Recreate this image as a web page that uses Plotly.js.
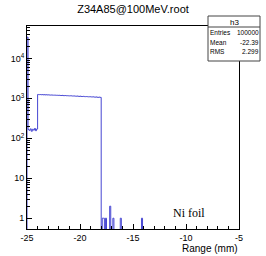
<!DOCTYPE html>
<html>
<head>
<meta charset="utf-8">
<script src="https://cdn.plot.ly/plotly-3.0.1.min.js"></script>
<style>html,body{margin:0;padding:0;background:#fff;}#chart{width:266px;height:256px;}</style>
</head>
<body>
<div id="chart"></div>
<script>
// Histogram h3: bins of 0.1 mm from -25 to -5
const binStart = -25;
const binWidth = 0.1;
const binCount = 200;
// counts for consecutive bins starting at -25.0 (first bin, low plateau, main plateau)
const mainCounts = [
  34000,
  165, 158, 172, 150, 168, 160, 176, 155, 170,
  1250, 1235, 1245, 1230, 1240, 1225, 1232, 1220, 1228, 1215,
  1222, 1210, 1205, 1215, 1200, 1198, 1205, 1190, 1195, 1185,
  1192, 1180, 1175, 1185, 1170, 1168, 1175, 1160, 1165, 1155,
  1150, 1162, 1145, 1140, 1150, 1135, 1130, 1142, 1125, 1120,
  1130, 1115, 1110, 1122, 1105, 1100, 1112, 1095, 1090, 1100,
  1085, 1080, 1092, 1075, 1070, 1082, 1065, 1060, 1072, 1055
];
// sparse tail entries (bin low edge, count)
const tailBins = [-17.9, -17.8, -17.6, -17.2, -16.9, -16.2, -14.2];
const tailCounts = [1, 1, 1, 2, 1, 1, 1];

const xTickVals = [-25, -20, -15, -10, -5];
const xTickText = ['-25', '-20', '-15', '-10', '-5'];
const yTickVals = [1, 10, 100, 1000, 10000];
const yTickText = ['1', '10', '10<sup>2</sup>', '10<sup>3</sup>', '10<sup>4</sup>'];

const statsName = 'h3';
const statsLabels = ['Entries', 'Mean', 'RMS'];
const statsValues = ['100000', '-22.39', '2.299'];

const chartTitle = 'Z34A85@100MeV.root';
const xTitle = 'Range (mm)';
const noteText = 'Ni foil';

// assemble bin contents
const counts = new Array(binCount).fill(0);
mainCounts.forEach((c, i) => { counts[i] = c; });
tailBins.forEach((b, j) => {
  const idx = Math.round((b - binStart) / binWidth);
  counts[idx] = tailCounts[j];
});
const floorVal = 0.01; // empty bins drawn below the visible range
const xs = [binStart], ys = [floorVal];
for (let i = 0; i < binCount; i++) {
  xs.push(+(binStart + i * binWidth).toFixed(2));
  ys.push(counts[i] > 0 ? counts[i] : floorVal);
}
xs.push(binStart + binCount * binWidth);
ys.push(floorVal);

const minorY = [];
for (let e = 0; e <= 4; e++) for (let m = 2; m <= 9; m++) minorY.push(m * Math.pow(10, e));

const font = 'Liberation Sans, Arial, sans-serif';
const L = 27, R = 27, T = 26, B = 27, W = 266, H = 256;
const pw = W - L - R, ph = H - T - B;
const px = v => (v - L) / pw;
const py = v => (H - B - v) / ph;

const trace = {
  x: xs, y: ys, type: 'scatter', mode: 'lines',
  line: {shape: 'hv', color: 'rgb(70,70,210)', width: 1},
  hoverinfo: 'skip'
};

const annotations = [
  {text: noteText, x: px(189), y: py(213), xref: 'paper', yref: 'paper', showarrow: false,
   xanchor: 'center', yanchor: 'middle', font: {family: 'Liberation Serif, Times New Roman, serif', size: 12, color: '#000'}},
  {text: xTitle, x: px(240), y: py(248), xref: 'paper', yref: 'paper', showarrow: false,
   xanchor: 'right', yanchor: 'middle', font: {family: font, size: 10, color: '#000'}},
  {text: statsName, x: px(234), y: py(22), xref: 'paper', yref: 'paper', showarrow: false,
   xanchor: 'center', yanchor: 'middle', font: {family: font, size: 8, color: '#000'}}
];
const rowY = [33, 42, 52];
statsLabels.forEach((lab, i) => {
  annotations.push({text: lab, x: px(209), y: py(rowY[i]), xref: 'paper', yref: 'paper', showarrow: false,
    xanchor: 'left', yanchor: 'middle', borderpad: 0, font: {family: font, size: 6.5, color: '#000'}});
  annotations.push({text: statsValues[i], x: px(259.5), y: py(rowY[i]), xref: 'paper', yref: 'paper', showarrow: false,
    xanchor: 'right', yanchor: 'middle', borderpad: 0, font: {family: font, size: 6.5, color: '#000'}});
});

const shapes = [
  {type: 'rect', xref: 'paper', yref: 'paper', x0: px(208), x1: px(260), y0: py(61), y1: py(16),
   fillcolor: '#fff', line: {color: '#444', width: 1}, layer: 'above'},
  {type: 'line', xref: 'paper', yref: 'paper', x0: px(208), x1: px(260), y0: py(27), y1: py(27),
   line: {color: '#444', width: 1}, layer: 'above'}
];

const layout = {
  width: W, height: H,
  margin: {l: L, r: R, t: T, b: B, pad: 0},
  paper_bgcolor: '#fff', plot_bgcolor: '#fff',
  showlegend: false,
  title: {text: chartTitle, x: 0.5, xanchor: 'center', xref: 'paper', y: 1 - 9 / H, yanchor: 'middle', yref: 'container',
          font: {family: font, size: 11, color: '#000'}},
  xaxis: {
    range: [-25, -5], tickmode: 'array', tickvals: xTickVals, ticktext: xTickText,
    ticks: 'inside', ticklen: 5, tickcolor: '#000', tickwidth: 1,
    minor: {dtick: 1, tick0: -25, ticks: 'inside', ticklen: 3, tickcolor: '#000', showgrid: false},
    showgrid: false, zeroline: false, showline: true, linecolor: '#000', linewidth: 1, mirror: true,
    tickfont: {family: font, size: 9, color: '#000'}
  },
  yaxis: {
    type: 'log', range: [-0.27, 4.81], tickmode: 'array', tickvals: yTickVals, ticktext: yTickText,
    ticks: 'inside', ticklen: 5, tickcolor: '#000', tickwidth: 1,
    minor: {tickmode: 'array', tickvals: minorY, ticks: 'inside', ticklen: 3, tickcolor: '#000', showgrid: false},
    showgrid: false, zeroline: false, showline: true, linecolor: '#000', linewidth: 1, mirror: true,
    tickfont: {family: font, size: 9, color: '#000'}
  },
  annotations: annotations,
  shapes: shapes
};

Plotly.newPlot('chart', [trace], layout, {staticPlot: true, displayModeBar: false});
</script>
</body>
</html>
